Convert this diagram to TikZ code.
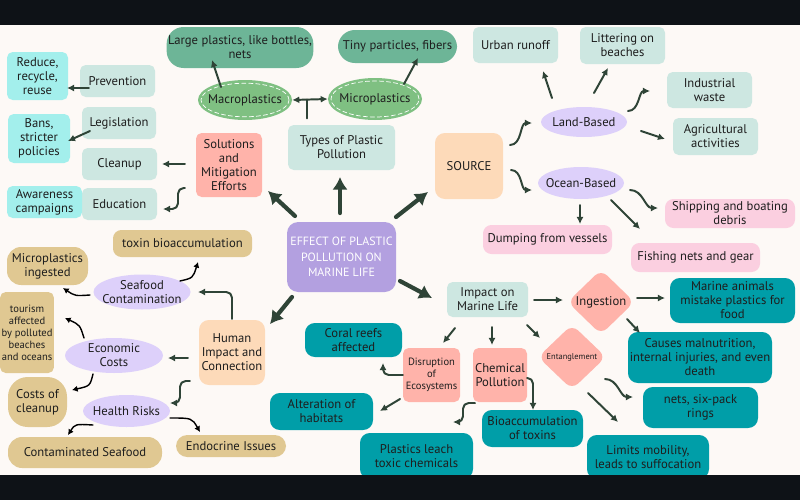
\documentclass[tikz,border=0pt]{standalone}
\usepackage{fontspec}
\setmainfont{PT Sans}
\usetikzlibrary{arrows.meta,shapes.geometric}

\definecolor{bgc}{HTML}{FDF9F6}
\definecolor{barc}{HTML}{0E1217}
\definecolor{txtc}{HTML}{1E1E1E}
\definecolor{tealbox}{HTML}{CDE7E1}
\definecolor{cyanbox}{HTML}{A3EFEC}
\definecolor{salmon}{HTML}{FFB3AA}
\definecolor{peach}{HTML}{FDDAB9}
\definecolor{purp}{HTML}{B3A0E0}
\definecolor{lav}{HTML}{DDD0FA}
\definecolor{blobgrn}{HTML}{6DB597}
\definecolor{ellgrn}{HTML}{7FC082}
\definecolor{dteal}{HTML}{009EA8}
\definecolor{pinkbox}{HTML}{FBCFE0}
\definecolor{tanbox}{HTML}{E0C892}
\definecolor{arrowc}{HTML}{2F4437}

\tikzset{
  box/.style={rounded corners=4pt, inner sep=1pt, align=center, text=txtc},
  sz/.style 2 args={minimum width=#1*0.025cm, minimum height=#2*0.025cm},
  ellbg/.style={ellipse, inner sep=0pt},
  txt/.style={inner sep=0pt, align=center, text=txtc},
  dia/.style={diamond, aspect=1, inner sep=0pt, rounded corners=6pt, fill=salmon, align=center, text=txtc},
  arr/.style={draw=arrowc, line width=1.4pt, -{Latex[length=5pt,width=5pt]}},
  bigarr/.style={draw=arrowc, line width=3pt, -{Latex[length=9pt,width=11pt]}},
  carr/.style={draw=black, line width=1pt, -{Latex[length=4pt,width=4.5pt]}},
  smallfont/.style={font=\fontsize{7.5}{8.5}\selectfont}
}

\begin{document}
\begin{tikzpicture}[x=0.025cm,y=-0.025cm,line cap=round,line join=round,
  font=\fontsize{9}{10}\selectfont]
  \useasboundingbox (0,0) rectangle (800,500);
  \fill[bgc] (0,0) rectangle (800,500);

  \node[box,fill=cyanbox,sz={61}{48}] (reduce) at (37.5,76) {Reduce,\\recycle,\\reuse};
  \node[box,fill=tealbox,sz={75}{32}] (prevention) at (117.5,81) {Prevention};
  \node[box,fill=cyanbox,sz={62}{49}] (bans) at (39,138.5) {Bans,\\stricter\\policies};
  \node[box,fill=tealbox,sz={74}{32}] (legislation) at (119,123) {Legislation};
  \node[box,fill=tealbox,sz={75}{32}] (cleanup) at (119.5,164) {Cleanup};
  \node[box,fill=tealbox,sz={75}{32}] (education) at (119.5,204) {Education};
  \node[box,fill=cyanbox,sz={75}{32}] (awareness) at (44.5,202) {Awareness\\campaigns};
  \node[box,fill=salmon,sz={66}{64}] (solutions) at (229,165) {Solutions\\and\\Mitigation\\Efforts};

  \node[box,fill=blobgrn,rounded corners=12pt,sz={146}{41}] (large) at (240,47.5) {Large plastics, like bottles,\\nets};
  \node[box,fill=blobgrn,rounded corners=12pt,sz={119}{33}] (tiny) at (397.5,46.5) {Tiny particles, fibers};
  \node[ellbg,fill=ellgrn,sz={94}{40}] (macro) at (245,100) {};
  \draw[white,line width=0.5pt,dash pattern=on 3pt off 2pt] (macro.center) ellipse [x radius=1.1cm, y radius=0.42cm];
  \node[txt] at (macro) {Macroplastics};
  \node[ellbg,fill=ellgrn,sz={94}{42}] (micro) at (375,99) {};
  \draw[white,line width=0.5pt,dash pattern=on 3pt off 2pt] (micro.center) ellipse [x radius=1.1cm, y radius=0.45cm];
  \node[txt] at (micro) {Microplastics};
  \node[box,fill=tealbox,sz={107}{45}] (types) at (341.5,147.5) {Types of Plastic\\Pollution};
  \node[box,fill=peach,rounded corners=7pt,sz={68}{66}] (source) at (469,166) {SOURCE};

  \node[box,fill=purp,rounded corners=8pt,text=white,sz={109}{70},font=\fontsize{8.5}{11}\selectfont] (effect) at (341.5,257) {EFFECT OF PLASTIC\\POLLUTION ON\\MARINE LIFE};

  \node[box,fill=tealbox,sz={85}{36}] (urban) at (515.5,45) {Urban runoff};
  \node[box,fill=tealbox,sz={85}{37}] (litter) at (622.5,45.5) {Littering on\\beaches};
  \node[box,fill=tealbox,sz={85}{36}] (industrial) at (709.5,90) {Industrial\\waste};
  \node[box,fill=tealbox,sz={85}{37}] (agri) at (715.5,136.5) {Agricultural\\activities};
  \node[ellbg,fill=lav,sz={86}{30}] (land) at (584,122) {};
  \node[txt] at (land) {Land-Based};
  \node[ellbg,fill=lav,sz={86}{32}] (ocean) at (581,183) {};
  \node[txt] at (ocean) {Ocean-Based};
  \node[box,fill=pinkbox,rounded corners=6pt,sz={130}{29}] (shipping) at (730,213.5) {Shipping and boating\\debris};
  \node[box,fill=pinkbox,rounded corners=6pt,sz={129}{29}] (dumping) at (547.5,239.5) {Dumping from vessels};
  \node[box,fill=pinkbox,rounded corners=6pt,sz={129}{29}] (fishing) at (695.5,257.5) {Fishing nets and gear};

  \node[box,fill=tealbox,sz={81}{35}] (impact) at (487.5,299.5) {Impact on\\Marine Life};
  \node[dia,sz={67}{65}] (ingestion) at (601,302) {Ingestion};
  \node[dia,sz={68}{65},font=\fontsize{6}{7}\selectfont] (entangle) at (572,357) {Entanglement};
  \node[box,fill=dteal,rounded corners=7pt,sz={125}{45}] (marine) at (732.5,300.5) {Marine animals\\mistake plastics for\\food};
  \node[box,fill=dteal,rounded corners=7pt,sz={144}{51}] (causes) at (700,357.5) {Causes malnutrition,\\internal injuries, and even\\death};
  \node[box,fill=dteal,rounded corners=7pt,sz={115}{41}] (nets) at (700.5,407.5) {nets, six-pack\\rings};
  \node[box,fill=dteal,rounded corners=7pt,sz={122}{44}] (limits) at (648,457) {Limits mobility,\\leads to suffocation};
  \node[box,fill=dteal,rounded corners=7pt,sz={97}{34}] (coral) at (353.5,340) {Coral reefs\\affected};
  \node[box,fill=salmon,smallfont,sz={57}{54}] (disruption) at (431.5,375) {Disruption\\of\\Ecosystems};
  \node[box,fill=salmon,sz={54}{54}] (chemical) at (500,375) {Chemical\\Pollution};
  \node[box,fill=dteal,rounded corners=7pt,sz={103}{37}] (alteration) at (321.5,411.5) {Alteration of\\habitats};
  \node[box,fill=dteal,rounded corners=7pt,sz={113}{46}] (leach) at (416.5,456) {Plastics leach\\toxic chemicals};
  \node[box,fill=dteal,rounded corners=7pt,sz={101}{37}] (bioacc) at (532.5,428.5) {Bioaccumulation\\of toxins};

  \node[box,fill=tanbox,rounded corners=6pt,sz={139}{27}] (toxin) at (182.5,243.5) {toxin bioaccumulation};
  \node[box,fill=tanbox,rounded corners=10pt,sz={81}{38}] (mingested) at (47.5,266) {Microplastics\\ingested};
  \node[ellbg,fill=lav,sz={97}{35}] (seafood) at (142,292) {};
  \node[txt] at (seafood) {Seafood\\Contamination};
  \node[box,fill=tanbox,smallfont,sz={52}{81}] (tourism) at (27,332.5) {tourism\\affected\\by polluted\\beaches\\and oceans};
  \node[ellbg,fill=lav,sz={98}{35}] (economic) at (114,355.5) {};
  \node[txt] at (economic) {Economic\\Costs};
  \node[box,fill=tanbox,rounded corners=14pt,sz={59}{50}] (cleanupcost) at (37.5,402) {Costs of\\cleanup};
  \node[ellbg,fill=lav,sz={87}{32}] (health) at (126.5,411) {};
  \node[txt] at (health) {Health Risks};
  \node[box,fill=tanbox,rounded corners=10pt,sz={154}{31}] (contam) at (85,452.5) {Contaminated Seafood};
  \node[box,fill=tanbox,rounded corners=8pt,sz={110}{22}] (endocrine) at (231,446) {Endocrine Issues};
  \node[box,fill=peach,rounded corners=7pt,sz={66}{65}] (human) at (232,352.5) {Human\\Impact and\\Connection};

  \draw[arr] ([shift={(-28.5,7)}]prevention.center) -- ([shift={(29.5,12)}]reduce.center);
  \draw[arr] ([shift={(-29,8)}]legislation.center) -- ([shift={(29,2.5)}]bans.center);
  \draw[arr] ([shift={(-44,-1)}]solutions.center) -- ([shift={(42.5,0)}]cleanup.center);
  \draw[arr,rounded corners=4pt] ([shift={(-44,23)}]solutions.center) -- ++(-7,0) |- ([shift={(43.5,5)}]education.center);
  \draw[arr] ([shift={(-24,-13)}]macro.center) -- ([shift={(-28,12.5)}]large.center);
  \draw[arr] ([shift={(29,-15)}]micro.center) -- ([shift={(20.5,11.5)}]tiny.center);
  \draw[arr,{Latex[length=5pt,width=5pt]}-{Latex[length=5pt,width=5pt]}] (macro.east) -- (micro.west);
  \draw[draw=arrowc,line width=1.4pt] ([shift={(-34.5,-29)}]types.center) -- ++(0,-19);

  \draw[bigarr] ([shift={(-46.5,-41)}]effect.center) -- ([shift={(39,26)}]solutions.center);
  \draw[bigarr] ([shift={(-1.5,-44)}]effect.center) -- ([shift={(-1.5,29.5)}]types.center);
  \draw[bigarr] ([shift={(54.5,-40)}]effect.center) -- ([shift={(-41,26)}]source.center);
  \draw[bigarr] ([shift={(-49.5,40)}]effect.center) -- ([shift={(38,-28.5)}]human.center);
  \draw[bigarr] ([shift={(58.5,24)}]effect.center) -- ([shift={(-55.5,-1.5)}]impact.center);

  \draw[arr] ([shift={(41,-21)}]source.center) to[out=0,in=180] ([shift={(-52,1)}]land.center);
  \draw[arr] ([shift={(42,4)}]source.center) to[out=0,in=180] ([shift={(-49,7)}]ocean.center);
  \draw[arr] ([shift={(-32,-24)}]land.center) -- ([shift={(27.5,26)}]urban.center);
  \draw[arr] ([shift={(10,-29)}]land.center) -- ([shift={(-14.5,22.5)}]litter.center);
  \draw[arr] ([shift={(44,-11)}]land.center) to[out=0,in=180] ([shift={(-59.5,1)}]industrial.center);
  \draw[arr] ([shift={(57,9)}]land.center) -- ([shift={(-50.5,2.5)}]agri.center);
  \draw[arr] ([shift={(49,7)}]ocean.center) to[out=0,in=180] ([shift={(-72,-5.5)}]shipping.center);
  \draw[arr] ([shift={(-1,22)}]ocean.center) -- ([shift={(32.5,-15.5)}]dumping.center);
  \draw[arr] ([shift={(30,17)}]ocean.center) -- ([shift={(-55.5,-28.5)}]fishing.center);

  \draw[arr] ([shift={(46.5,0.5)}]impact.center) -- ([shift={(-38,-2)}]ingestion.center);
  \draw[arr] ([shift={(36,-4)}]ingestion.center) -- ([shift={(-67.5,-2.5)}]marine.center);
  \draw[arr] ([shift={(26,17)}]ingestion.center) -- ([shift={(-60,-24.5)}]causes.center);
  \draw[arr] ([shift={(39.5,25.5)}]impact.center) -- ([shift={(-32,-19)}]entangle.center);
  \draw[arr] ([shift={(-32.5,28.5)}]impact.center) -- ([shift={(11.5,-32)}]disruption.center);
  \draw[arr] ([shift={(4.5,27.5)}]impact.center) -- ([shift={(-8,-30)}]chemical.center);
  \draw[arr,rounded corners=4pt] ([shift={(-28.5,0)}]disruption.center) -| ([shift={(29.5,23)}]coral.center);
  \draw[arr] ([shift={(-31.5,24)}]disruption.center) -- ([shift={(58.5,-0.5)}]alteration.center);
  \draw[arr,rounded corners=4pt] ([shift={(27,3)}]chemical.center) -| ([shift={(0.5,-18.5)}]bioacc.center);
  \draw[arr,rounded corners=4pt] ([shift={(-25,28)}]chemical.center) -- ++(-12,0) |- ([shift={(36.5,-34)}]leach.center);
  \draw[arr] ([shift={(33,22)}]entangle.center) to[out=0,in=180] ([shift={(-67.5,-10.5)}]nets.center);
  \draw[arr] ([shift={(16,36)}]entangle.center) -- ([shift={(-30,-35)}]limits.center);

  \draw[arr,rounded corners=4pt] ([shift={(0,-33.5)}]human.center) |- ([shift={(56,0)}]seafood.center);
  \draw[arr] ([shift={(-44,5.5)}]human.center) -- ([shift={(54,2.5)}]economic.center);
  \draw[arr,rounded corners=4pt] ([shift={(-42,28.5)}]human.center) -- ++(-10,0) |- ([shift={(43.5,-8)}]health.center);
  \draw[carr] ([shift={(38,-11)}]seafood.center) .. controls +(13,-3) .. ([shift={(15.5,18.5)}]toxin.center);
  \draw[carr] ([shift={(-52,3)}]seafood.center) .. controls +(-15,1) .. ([shift={(15.5,22)}]mingested.center);
  \draw[carr] ([shift={(-30,-17.5)}]economic.center) .. controls +(-4,-13) .. ([shift={(38,-14.5)}]tourism.center);
  \draw[carr] ([shift={(-21,18.5)}]economic.center) .. controls +(-3,12) .. ([shift={(34.5,-12)}]cleanupcost.center);
  \draw[carr] ([shift={(-33.5,14)}]health.center) .. controls +(-18,-1) .. ([shift={(-17,-17.5)}]contam.center);
  \draw[carr] ([shift={(43.5,7)}]health.center) .. controls +(22,0) .. ([shift={(-31,-14)}]endocrine.center);

  \fill[barc] (0,0) rectangle (800,25);
  \fill[barc] (0,475) rectangle (800,500);
\end{tikzpicture}
\end{document}
